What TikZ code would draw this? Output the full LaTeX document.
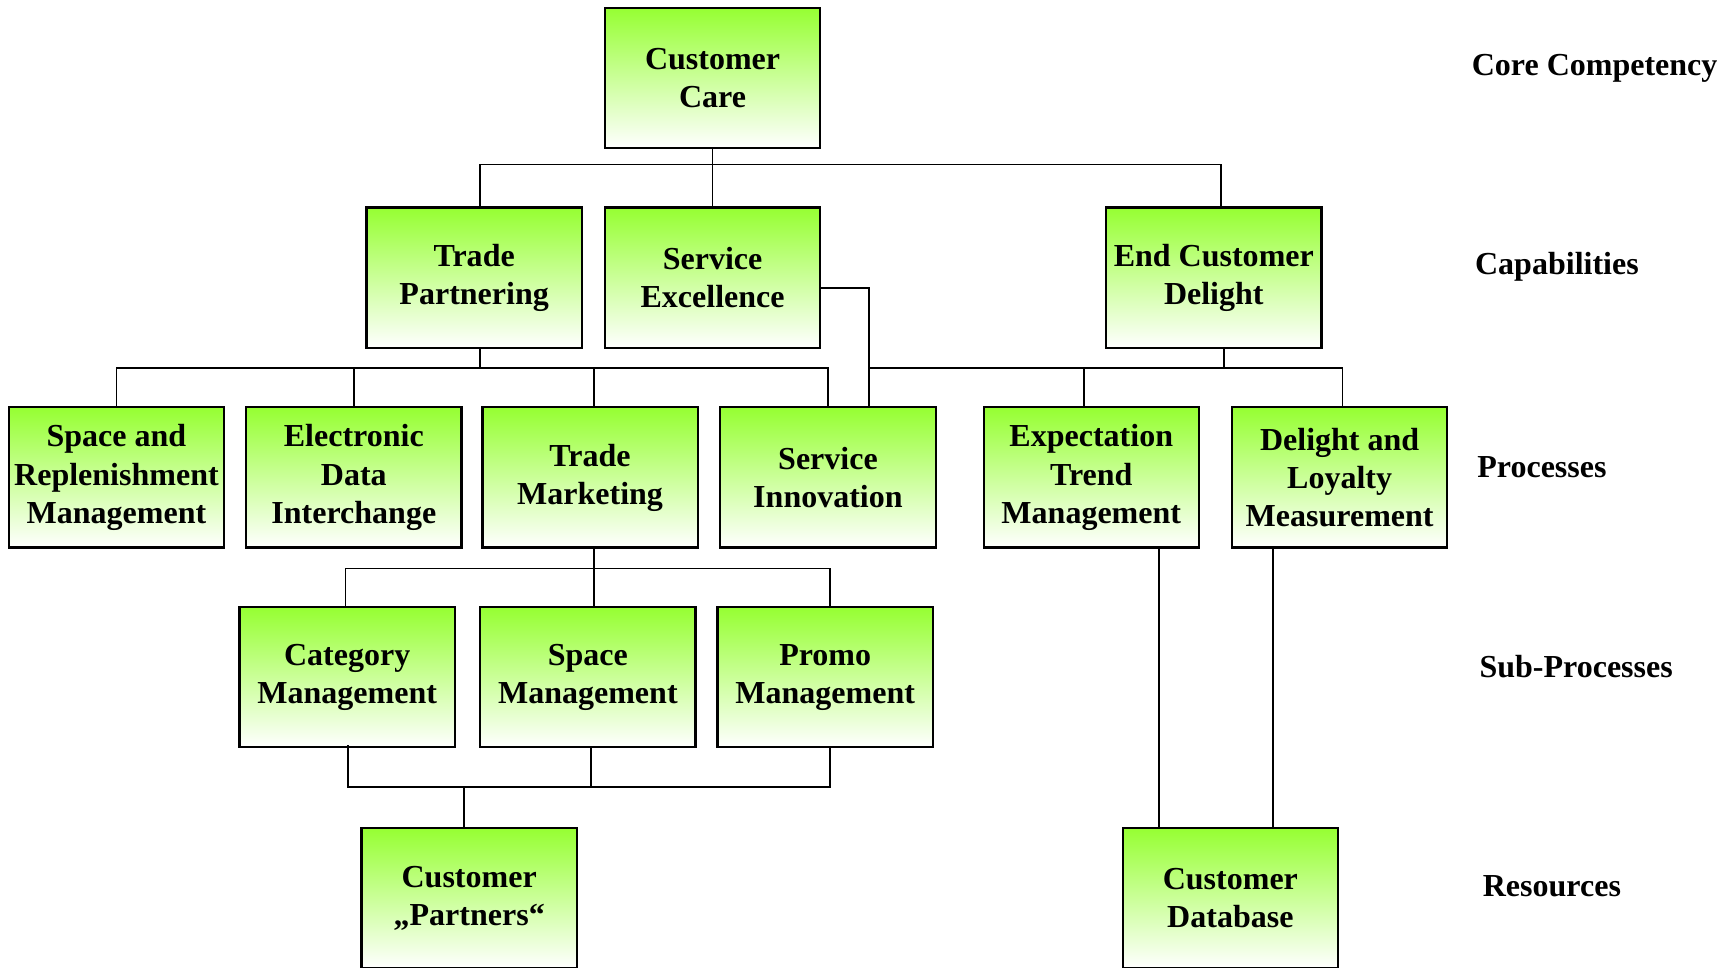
\documentclass[tikz,border=0pt]{standalone}
\usepackage{fontspec}
\setmainfont{Liberation Serif}
\usetikzlibrary{calc}
\definecolor{gtop}{RGB}{150,255,50}
\begin{document}
\begin{tikzpicture}[x=1pt,y=-1pt,
  box/.style={draw=black, line width=2pt, top color=gtop, bottom color=white,
    minimum width=195pt, minimum height=127pt, inner sep=0pt, align=center,
    font=\fontsize{29}{34.5}\selectfont\bfseries},
  lvl/.style={anchor=west, inner sep=0pt, font=\fontsize{29}{34.5}\selectfont\bfseries},
  conn/.style={line width=1.6pt, line cap=rect}]
\useasboundingbox (0,0) rectangle (1568,876);
\clip (0,0) rectangle (1568,876);

% boxes
\node[box] (cc)  at (645.5,70.5)  {Customer\\Care};
\node[box] (tp)  at (429.5,251.5) {Trade\\Partnering};
\node[box] (se)  at (645.5,251.5) {Service\\Excellence};
\node[box] (ecd) at (1099.5,251.5) {End Customer\\Delight};
\node[box] (sr)  at (105.5,432.5) {Space and\\Replenishment\\Management};
\node[box] (edi) at (320.5,432.5) {Electronic\\Data\\Interchange};
\node[box] (tm)  at (534.5,432.5) {Trade\\Marketing};
\node[box] (si)  at (750,432.5)   {Service\\Innovation};
\node[box] (etm) at (988.5,432.5) {Expectation\\Trend\\Management};
\node[box] (dlm) at (1213.5,432.5) {Delight and\\Loyalty\\Measurement};
\node[box] (cm)  at (314.5,613.5) {Category\\Management};
\node[box] (sm)  at (532.5,613.5) {Space\\Management};
\node[box] (pm)  at (747.5,613.5) {Promo\\Management};
\node[box] (cp)  at (425,813.5)   {Customer\\„Partners“};
\node[box] (cdb) at (1114.5,813.5) {Customer\\Database};

% level labels
\node[lvl] (l1) at (1333,62)  {Core Competency};
\node[lvl] (l2) at (1336,242) {Capabilities};
\node[lvl] (l3) at (1338,423) {Processes};
\node[lvl] (l4) at (1340,604) {Sub-Processes};
\node[lvl] (l5) at (1343,803) {Resources};

% level 1 -> 2
\coordinate (a0) at (645.5,149);
\coordinate (aL) at (435,149);
\coordinate (aR) at (1106,149);
\draw[conn] (cc.south) -- (a0);
\draw[conn] (aL) -- (aR);
\draw[conn] (aL) -- (aL |- tp.north);
\draw[conn] (a0) -- (se.north);
\draw[conn] (aR) -- (aR |- ecd.north);

% level 2 -> 3 (Trade Partnering)
\coordinate (b0) at (435,333);
\coordinate (bL) at (105.5,333);
\coordinate (b2) at (320.5,333);
\coordinate (b3) at (538,333);
\coordinate (bR) at (750,333);
\draw[conn] (b0 |- tp.south) -- (b0);
\draw[conn] (bL) -- (bR);
\draw[conn] (bL) -- (sr.north);
\draw[conn] (b2) -- (edi.north);
\draw[conn] (b3) -- (b3 |- tm.north);
\draw[conn] (bR) -- (si.north);

% Service Excellence -> Service Innovation
\coordinate (s1) at (787,261);
\draw[conn] (se.east |- s1) -- (s1) -- (s1 |- si.north);

% End Customer Delight
\coordinate (c0) at (1109,333);
\coordinate (cL) at (787,333);
\coordinate (c2) at (982,333);
\coordinate (cR) at (1216,333);
\draw[conn] (c0 |- ecd.south) -- (c0);
\draw[conn] (cL) -- (cR);
\draw[conn] (c2) -- (c2 |- etm.north);
\draw[conn] (cR) -- (cR |- dlm.north);

% level 3 -> 4
\coordinate (d0) at (538,515);
\coordinate (dL) at (313,515);
\coordinate (dR) at (752,515);
\draw[conn] (d0 |- tm.south) -- (d0);
\draw[conn] (dL) -- (dR);
\draw[conn] (dL) -- (dL |- cm.north);
\draw[conn] (d0) -- (d0 |- sm.north);
\draw[conn] (dR) -- (dR |- pm.north);

% level 4 -> 5
\coordinate (e1) at (315,713);
\coordinate (e2) at (535,713);
\coordinate (e3) at (752,713);
\coordinate (e0) at (420,713);
\draw[conn] ($(e1 |- cm.south)+(0,-2)$) -- (e1);
\draw[conn] (e2 |- sm.south) -- (e2);
\draw[conn] (e3 |- pm.south) -- (e3);
\draw[conn] (e1) -- (e3);
\draw[conn] (e0) -- (e0 |- cp.north);

% processes -> customer database
\coordinate (f1) at (1050,496);
\coordinate (f2) at (1153,496);
\draw[conn] (f1 |- etm.south) -- (f1 |- cdb.north);
\draw[conn] (f2 |- dlm.south) -- (f2 |- cdb.north);
\end{tikzpicture}
\end{document}
